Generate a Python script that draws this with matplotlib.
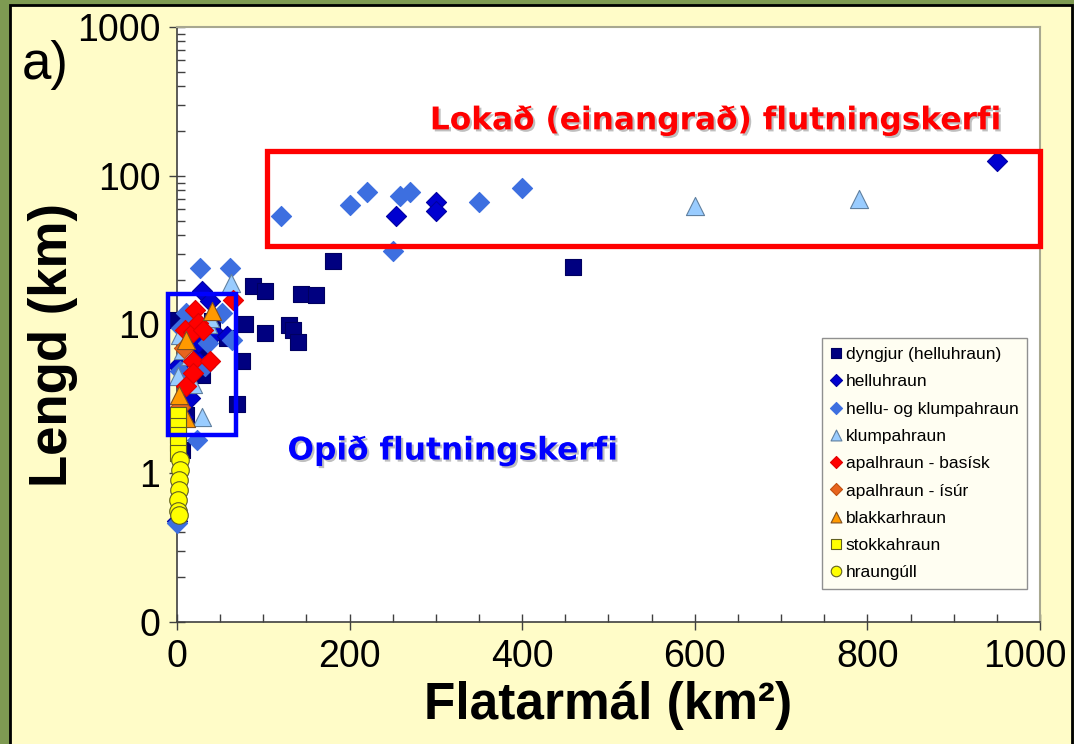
import numpy as np
import matplotlib
matplotlib.use('Agg')
import matplotlib.pyplot as plt
import matplotlib.patheffects as pe
import matplotlib.transforms as mtransforms
from matplotlib.patches import Rectangle
from matplotlib.ticker import FixedLocator, FixedFormatter, LogLocator, NullFormatter, MultipleLocator

plt.rcParams['font.family'] = ['Liberation Sans', 'DejaVu Sans']

# data: area (km2) vs length (km), per lava type
dyngjur_x = [0, 6, 11, 26, 29, 41, 58, 69, 75, 79, 88, 102, 102, 130, 134, 140, 144, 161, 181, 459]
dyngjur_y = [10.7, 1.43, 2.45, 6.7, 4.6, 10.5, 8.1, 2.9, 5.7, 10, 18.1, 16.8, 8.8, 9.9, 9.2, 7.6, 16, 15.8, 26.7, 24.4]

hellu_x = [0, 1, 7, 15, 20, 24, 29, 38, 44, 58, 254, 300, 300, 950]
hellu_y = [0.48, 5.3, 2.4, 3.2, 6.0, 7.5, 16.8, 14.4, 8.8, 8.4, 54, 67, 58, 125]

hk_x = [0, 3, 5, 11, 18, 23, 27, 33, 36, 52, 61, 64, 120, 200, 220, 250, 258, 270, 350, 400]
hk_y = [0.46, 4.9, 9.5, 12, 11, 1.67, 24, 5.3, 7.5, 12, 24, 7.9, 54, 64, 78, 31, 73, 78, 67, 83]

klump_x = [1, 4, 7, 15, 19, 29, 36, 38, 63, 600, 790]
klump_y = [4.5, 8.5, 6.7, 6.1, 4.0, 2.4, 10, 11, 19, 63, 70]

apal_b_x = [9, 11, 18, 19, 19, 21, 24, 30, 38, 65]
apal_b_y = [9.2, 3.85, 8.9, 5.7, 4.7, 12.5, 10.2, 9.2, 5.7, 14.6]

apal_s_x = [4, 8]
apal_s_y = [2.8, 7.0]

blakk_x = [2, 3, 11, 11, 41]
blakk_y = [3.35, 2.4, 2.35, 7.9, 12.3]

stokk_x = [1, 1, 1, 1, 1]
stokk_y = [2.45, 2.07, 1.8, 1.6, 1.36]

gull_x = [3, 3, 2, 2, 1, 1, 2]
gull_y = [1.22, 1.05, 0.9, 0.77, 0.66, 0.56, 0.52]

series = [
    ('dyngjur (helluhraun)', dyngjur_x, dyngjur_y, 's', '#000080', '#000060', 130),
    ('helluhraun', hellu_x, hellu_y, 'D', '#0000D0', '#0000A0', 105),
    ('hellu- og klumpahraun', hk_x, hk_y, 'D', '#3D6FE0', '#3D6FE0', 105),
    ('klumpahraun', klump_x, klump_y, '^', '#99CCFF', '#6080A0', 170),
    ('apalhraun - basísk', apal_b_x, apal_b_y, 'D', '#FF0000', '#E00000', 105),
    ('apalhraun - ísúr', apal_s_x, apal_s_y, 'D', '#E8641E', '#C05010', 105),
    ('blakkarhraun', blakk_x, blakk_y, '^', '#FF9900', '#805020', 170),
    ('stokkahraun', stokk_x, stokk_y, 's', '#FFFF00', '#606020', 130),
    ('hraungúll', gull_x, gull_y, 'o', '#FFFF00', '#606020', 160),
]

fig = plt.figure(figsize=(10.74, 7.44), dpi=100, facecolor='#7E9A52')
fig.patches.append(Rectangle((0.0093, -0.01), 0.989, 1.003, transform=fig.transFigure,
                             facecolor='#FFFCC8', edgecolor='black', linewidth=2, zorder=-1))

ax = fig.add_axes([0.1648, 0.164, 0.8035, 0.7997])
ax.set_facecolor('white')

for name, xs, ys, mk, fc, ec, s in series:
    ax.scatter(xs, ys, marker=mk, s=s, facecolor=fc, edgecolor=ec, linewidth=0.8,
               label=name, clip_on=False, zorder=3)

ax.set_yscale('log')
ax.set_xlim(0, 1000)
ax.set_ylim(0.1, 1000)
ax.yaxis.set_major_locator(FixedLocator([0.1, 1, 10, 100, 1000]))
ax.yaxis.set_major_formatter(FixedFormatter(['0', '1', '10', '100', '1000']))
ax.yaxis.set_minor_locator(LogLocator(base=10, subs=np.arange(2, 10)))
ax.yaxis.set_minor_formatter(NullFormatter())
ax.xaxis.set_major_locator(FixedLocator([0, 200, 400, 600, 800, 1000]))
ax.xaxis.set_minor_locator(MultipleLocator(50))

ax.tick_params(axis='both', which='major', direction='inout', length=12, width=1,
               color='#404040', labelsize=27, pad=6)
ax.tick_params(axis='y', which='minor', direction='in', length=6, width=1, color='#404040')
ax.tick_params(axis='x', which='minor', direction='in', length=6, width=1, color='#404040')

for side in ('top', 'right'):
    ax.spines[side].set_color('#A8A890')
    ax.spines[side].set_linewidth(1.5)
for side in ('left', 'bottom'):
    ax.spines[side].set_color('#404040')
    ax.spines[side].set_linewidth(1.2)

ax.set_ylabel('Lengd (km)', fontsize=38, fontweight='bold')
ax.yaxis.set_label_coords(-0.115, 0.466)
ax.set_xlabel('Flatarmál (km²)', fontsize=37, fontweight='bold')
ax.xaxis.set_label_coords(0.5, -0.10)

# shift the "1000" x tick label left so it fits inside the panel
fig.canvas.draw()
for tick in ax.xaxis.get_major_ticks():
    if tick.get_loc() == 1000:
        tick.label1.set_transform(tick.label1.get_transform()
                                  + mtransforms.ScaledTranslation(-0.15, 0, fig.dpi_scale_trans))

# closed and open transport system boxes
ax.add_patch(Rectangle((104, 33.8), 896, 147 - 33.8, fill=False, edgecolor='#FF0000',
                       linewidth=3.8, clip_on=False, zorder=4))
ax.add_patch(Rectangle((-10, 1.8), 78, 16 - 1.8, fill=False, edgecolor='#0000FF',
                       linewidth=3.2, clip_on=False, zorder=4))

shadow = [pe.withSimplePatchShadow(offset=(1.5, -1.5), shadow_rgbFace='#808080', alpha=0.5)]
ax.text(293, 234, 'Lokað (einangrað) flutningskerfi', color='#FF0000', fontsize=22.5,
        fontweight='bold', family='DejaVu Sans', va='center', ha='left', path_effects=shadow)
ax.text(128, 1.41, 'Opið flutningskerfi', color='#0000FF', fontsize=22.5,
        fontweight='bold', family='DejaVu Sans', va='center', ha='left', path_effects=shadow)

fig.text(0.02, 0.913, 'a)', fontsize=38, va='center', ha='left')

leg = ax.legend(loc='upper left', bbox_to_anchor=(0.747, 0.477), borderaxespad=0,
                fontsize=12.5, markerscale=0.6, handlelength=0.6, handletextpad=0.3,
                labelspacing=0.7, fancybox=False, framealpha=1, borderpad=0.5,
                scatteryoffsets=[0.5])
leg.get_frame().set_facecolor('#FFFEF2')
leg.get_frame().set_edgecolor('#909090')

fig.savefig('out.png', dpi=100, facecolor=fig.get_facecolor())
